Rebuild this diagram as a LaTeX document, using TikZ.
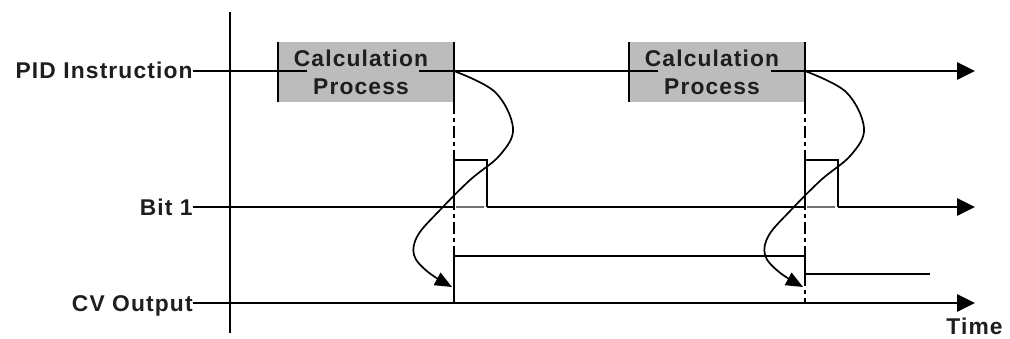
\documentclass[tikz,border=0pt]{standalone}
\usepackage{fontspec}
\newfontfamily\lblfont{Liberation Sans Bold}[LetterSpace=5]
\usetikzlibrary{arrows.meta}
\definecolor{boxgray}{RGB}{188,188,188}
\definecolor{txtcol}{RGB}{30,30,30}
\tikzset{
  lbl/.style={font=\lblfont\fontsize{11.4pt}{13pt}\selectfont, text=txtcol, inner sep=0pt, text height=8.1pt, text depth=0pt},
  sig/.style={line width=1.35pt},
  timeline/.style={sig, -{Triangle[length=9pt,width=8.5pt]}},
  ddash/.style={line width=1.2pt, dash pattern=on 6pt off 2pt on 2pt off 2pt},
  curvearrow/.style={line width=0.85pt, -{Triangle[length=8.5pt,width=7pt]}},
  boxfill/.style={fill=boxgray, draw=none}
}
\begin{document}
\begin{tikzpicture}[x=0.5pt,y=-0.5pt]
\useasboundingbox (0,0) rectangle (1010,338);

% calculation boxes (fill)
\fill[boxgray] (278,42) rectangle (454,102);
\fill[boxgray] (629,42) rectangle (805,102);

% labels
\node[lbl, anchor=east] (pid) at (193,70) {PID Instruction};
\node[lbl, anchor=east] (bit) at (193,207) {Bit 1};
\node[lbl, anchor=east] (cv)  at (193,303) {CV Output};
\node[lbl, anchor=east] (time) at (1003,326) {Time};

% vertical axis
\coordinate (axT) at (230,12);
\coordinate (axB) at (230,333);
\draw[sig] (axT) -- (axB);

% PID instruction line (interrupted by box texts)
\coordinate (pidStart) at (193,71);
\coordinate (g1a) at (307,71);
\coordinate (g1b) at (419,71);
\coordinate (g2a) at (658,71);
\coordinate (g2b) at (771,71);
\coordinate (pidEnd) at (975,71);
\draw[sig] (pid.east |- pidStart) -- (g1a);
\draw[sig] (g1b) -- (g2a);
\draw[timeline] (g2b) -- (pidEnd);

% box edges
\draw[sig] (278,42) -- (278,102);
\draw[sig] (454,42) -- (454,102);
\draw[sig] (629,42) -- (629,102);
\draw[sig] (805,42) -- (805,102);

% box texts
\node[lbl, anchor=center] (calc1) at (361,58) {Calculation};
\node[lbl, anchor=center] (proc1) at (361,86) {Process};
\node[lbl, anchor=center] (calc2) at (712,58) {Calculation};
\node[lbl, anchor=center] (proc2) at (712,86) {Process};

% Bit 1 line with pulses
\coordinate (p1a) at (454,207);
\coordinate (p1b) at (487,207);
\coordinate (p2a) at (805,207);
\coordinate (p2b) at (838,207);
\coordinate (bitEnd) at (975,207);
\draw[sig] (bit.east) -- (p1a);
\draw[sig] (p1a) -- (454,160) -- (487,160) -- (p1b);
\draw[sig] (p1b) -- (p2a);
\draw[sig] (p2a) -- (805,160) -- (838,160) -- (p2b);
\draw[timeline] (p2b) -- (bitEnd);
\draw[line width=1.2pt, boxgray!60!black] (456,207) -- (484,207);
\draw[line width=1.2pt, boxgray!60!black] (807,207) -- (835,207);

% CV output
\coordinate (cvEnd) at (975,303);
\draw[timeline] (cv.east) -- (cvEnd);
\draw[line width=1.2pt] (454,303) -- (454,256) -- (805,256) -- (805,274) -- (930,274);

% dash-dot guides
\draw[ddash] (454,102) -- (454,256);
\draw[ddash] (805,102) -- (805,256);
\draw[ddash] (805,274) -- (805,303);

% curved arrows
\draw[curvearrow] plot[smooth, tension=0.6] coordinates {(454,71) (495,92) (513,128) (500,155) (470,180) (440,210) (418,235) (414,255) (428,272) (452,287)};
\draw[curvearrow] plot[smooth, tension=0.6] coordinates {(805,71) (846,92) (864,128) (851,155) (821,180) (791,210) (769,235) (765,255) (779,272) (803,287)};
\end{tikzpicture}
\end{document}
